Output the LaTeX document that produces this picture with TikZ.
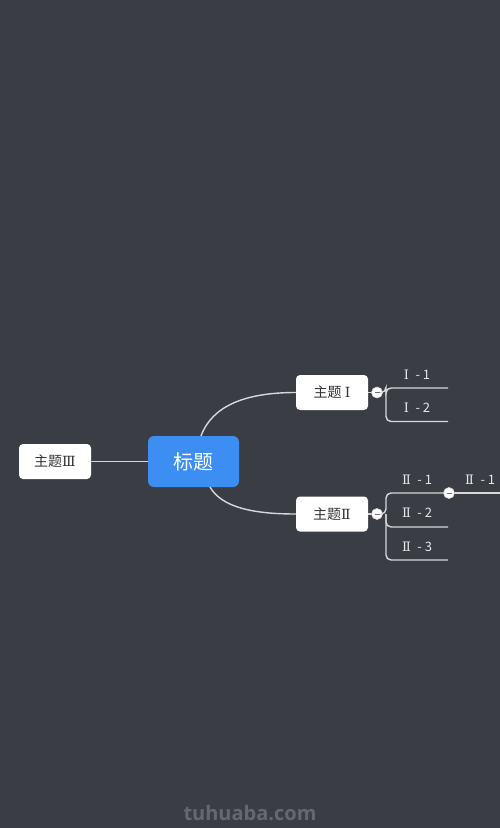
\documentclass[tikz,border=0pt]{standalone}
\usepackage{fontspec}
\setmainfont{Noto Sans CJK SC}
\newfontfamily\wmfont{Open Sans}
\newfontfamily\numfont{DejaVu Serif}
\newcommand{\rI}{{\numfont Ⅰ}}
\newcommand{\rII}{{\numfont Ⅱ}}
\newcommand{\rIII}{{\numfont Ⅲ}}
\usetikzlibrary{calc}
\definecolor{bg}{HTML}{3A3D43}
\definecolor{mainblue}{HTML}{3D8EF2}
\definecolor{linec}{HTML}{D8D8D8}
\definecolor{boxtext}{HTML}{333333}
\definecolor{labtext}{HTML}{E6E6E6}
\definecolor{wm}{HTML}{65686D}
\tikzset{
  topicbox/.style={draw=none, fill=white, rounded corners=4pt, minimum width=72pt, minimum height=35pt, inner sep=0pt, text=boxtext, font=\fontsize{14}{16}\selectfont},
  rootbox/.style={draw=none, fill=mainblue, rounded corners=6pt, minimum width=91pt, minimum height=51pt, inner sep=0pt, text=white, font=\fontsize{20}{24}\selectfont},
  conn/.style={draw=linec, line width=1.4pt},
  collapse/.style={circle, fill=white, draw=linec, line width=0.6pt, minimum size=11pt, inner sep=0pt},
  leaf/.style={text=labtext, font=\fontsize{13}{15}\selectfont, inner sep=0pt},
}
\begin{document}
\begin{tikzpicture}[x=1pt,y=-1pt]
\fill[bg] (0,0) rectangle (500,828);
\useasboundingbox (0,0) rectangle (500,828);
\clip (0,0) rectangle (500,828);
% nodes
\node[rootbox] (root) at (193.5,461.5) {标题};
\node[topicbox] (t3) at (55,461.5) {主题\rIII};
\node[topicbox] (t1) at (332,392.5) {主题 \rI};
\node[topicbox] (t2) at (332,514) {主题\rII};
\coordinate (rtop) at (201,436);
\coordinate (rbot) at (210,487);
% connectors root
\draw[conn] (t3.east) -- (root.west |- t3.east);
\draw[conn] (rtop) .. controls (212,406) and (245,392.5) .. (t1.west);
\draw[conn] (rbot) .. controls (222,508) and (255,514) .. (t2.west);
% topic I branch
\node[collapse] (c1) at (377,392.5) {};
\draw[conn] (t1.east) -- (c1.west);
\coordinate (b1a) at (448,388);
\coordinate (b1b) at (448,421.5);
\draw[conn, rounded corners=5pt] (c1.east) -- (386,392.5) |- (b1a);
\draw[conn, rounded corners=5pt] (386,392.5) |- (b1b);
\node[leaf] (l11) at (417,375) {\rI\enspace- 1};
\node[leaf] (l12) at (417,408) {\rI\enspace- 2};
% topic II branch
\node[collapse] (c2) at (377,514) {};
\draw[conn] (t2.east) -- (c2.west);
\node[collapse] (c3) at (449,493) {};
\coordinate (b2b) at (448,527);
\coordinate (b2c) at (448,560);
\coordinate (b2end) at (505,493);
\draw[conn, rounded corners=5pt] (c2.east) -- (386,514) |- (c3.west);
\draw[conn] (c3.east) -- (b2end);
\draw[conn, rounded corners=5pt] (386,514) |- (b2b);
\draw[conn, rounded corners=5pt] (386,514) |- (b2c);
\node[leaf] (l21) at (417,480) {\rII\enspace- 1};
\node[leaf] (l22) at (417,513) {\rII\enspace- 2};
\node[leaf] (l23) at (417,547) {\rII\enspace- 3};
\node[leaf, anchor=west] (l211) at (465,480) {\rII\enspace- 1};
% minus signs
\draw[boxtext!70, line width=1pt] ($(c1.center)+(-2.5,0)$) -- ($(c1.center)+(2.5,0)$);
\draw[boxtext!70, line width=1pt] ($(c2.center)+(-2.5,0)$) -- ($(c2.center)+(2.5,0)$);
\draw[boxtext!70, line width=1pt] ($(c3.center)+(-2.5,0)$) -- ($(c3.center)+(2.5,0)$);
% watermark
\node[text=wm, font=\wmfont\bfseries\fontsize{20}{24}\selectfont] (wmk) at (250,813) {tuhuaba.com};
\end{tikzpicture}
\end{document}
